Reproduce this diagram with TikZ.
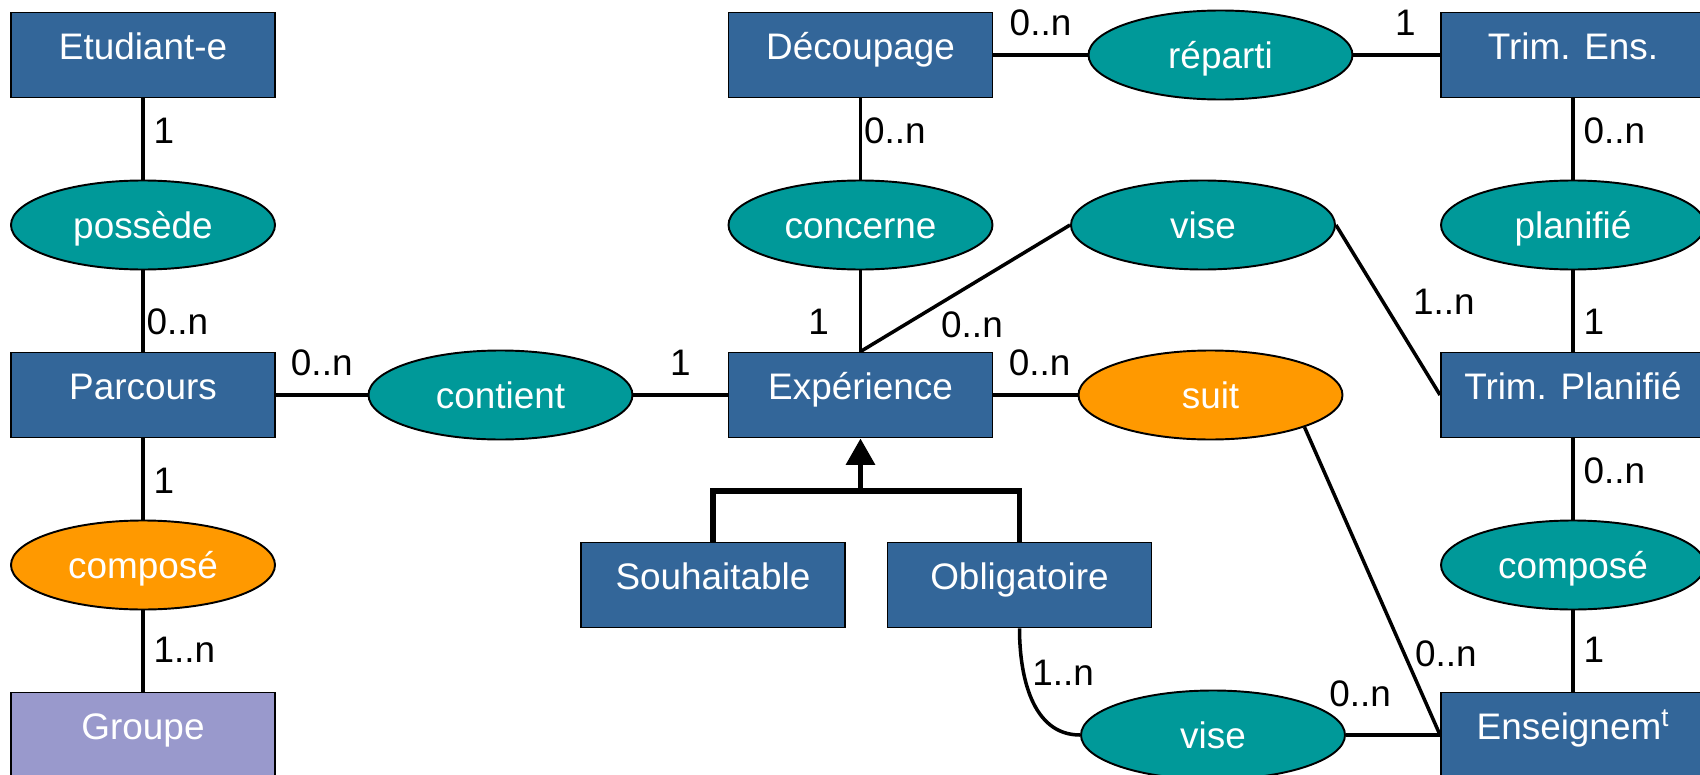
\documentclass[tikz,border=0pt]{standalone}
\usepackage{fontspec}
\setmainfont{Liberation Sans}
\usepackage{tikz}
\usetikzlibrary{shapes,shapes.geometric,arrows,arrows.meta,positioning}

\definecolor{entite}{RGB}{51,102,153}
\definecolor{assoc}{RGB}{0,153,153}
\definecolor{assocor}{RGB}{255,153,0}
\definecolor{groupe}{RGB}{153,153,204}

\tikzset{
  entity/.style={draw=black, line width=1.1pt, fill=entite, text=white,
    minimum width=5.28cm, minimum height=1.7cm, inner sep=0pt,
    text height=0.53cm, text depth=0.36cm},
  relation/.style={ellipse, draw=black, line width=1.1pt, fill=assoc, text=white,
    minimum width=5.28cm, minimum height=1.78cm, inner sep=0pt,
    text height=0.6cm, text depth=0.05cm},
  card/.style={text=black, inner xsep=5pt, inner ysep=10pt},
  lien/.style={line width=2pt}
}

\begin{document}
\begin{tikzpicture}[%
>=stealth,
node distance=3.4cm and 7.15cm,
on grid,
auto,
font=\fontsize{21}{25}\selectfont
]
\useasboundingbox (-2.86,1.1) rectangle (31.14,-14.4);

% colonne gauche
\node[entity] (etudiant) {Etudiant-e};
\node[relation] (possede) [below=of etudiant] {possède};
\node[entity] (parcours) [below=of possede] {Parcours};
\node[relation, fill=assocor] (composeG) [below=of parcours] {composé};
\node[entity, fill=groupe] (groupe) [below=of composeG] {Groupe};

% centre
\node[relation] (contient) [right=of parcours] {contient};
\node[entity] (experience) [right=7.2cm of contient] {Expérience};
\node[relation] (concerne) [above=of experience] {concerne};
\node[entity] (decoupage) [above=of concerne] {Découpage};
\node[entity] (souhaitable) [below left=3.8cm and 2.95cm of experience] {Souhaitable};
\node[entity] (obligatoire) [below right=3.8cm and 3.18cm of experience] {Obligatoire};

% droite
\node[relation] (reparti) [right=7.2cm of decoupage] {réparti};
\node[relation] (viseH) [right=6.85cm of concerne] {vise};
\node[relation, fill=assocor] (suit) [right=7.0cm of experience] {suit};
\node[entity] (trimens) [right=7.05cm of reparti] {Trim. Ens.};
\node[relation] (planifie) [below=of trimens] {planifié};
\node[entity] (trimplan) [below=of planifie] {Trim. Planifié};
\node[relation] (composeD) [below=of trimplan] {composé};
\node[entity] (enseignemt) [below=of composeD] {Enseignem\textsuperscript{t}};
\node[relation] (viseB) [left=7.2cm of enseignemt] {vise};

% liens
\path[lien] (etudiant) edge node[card, pos=0.4] {1} (possede);
\path[lien] (possede) edge node[card, pos=0.63, inner xsep=1pt] {0..n} (parcours);
\path[lien] (parcours) edge node[card, pos=0.52] {1} (composeG);
\path[lien] (composeG) edge node[card, pos=0.49] {1..n} (groupe);
\path[lien] (parcours) edge node[card] {0..n} (contient);
\path[lien] (contient) edge node[card] {1} (experience);
\path[lien] (decoupage) edge node[card, pos=0.4, inner xsep=1pt] {0..n} (concerne);
\path[lien] (concerne) edge node[card, swap, pos=0.63, xshift=-12pt] {1} (experience);
\path[lien] (experience.north) edge node[card, pos=0.36, anchor=north west, inner sep=2pt] {0..n} (viseH.west);
\path[lien] (viseH.east) edge node[card, pos=0.64] {1..n} (trimplan.west);
\path[lien] (decoupage) edge node[card] {0..n} (reparti);
\path[lien] (reparti) edge node[card, pos=0.6] {1} (trimens);
\path[lien] (trimens) edge node[card, pos=0.4] {0..n} (planifie);
\path[lien] (planifie) edge node[card, pos=0.63] {1} (trimplan);
\path[lien] (trimplan) edge node[card, pos=0.4] {0..n} (composeD);
\path[lien] (composeD) edge node[card, pos=0.49] {1} (enseignemt);
\path[lien] (experience) edge node[card, pos=0.55] {0..n} (suit);
\path[lien] (suit.south east) edge node[card, pos=0.79, inner sep=1pt] {0..n} (enseignemt.west);
\path[lien] (viseB) edge node[card, pos=0.15, yshift=5pt] {0..n} (enseignemt);
\path[lien] (obligatoire.south) edge[out=-90, in=180] node[card, pos=0.3, anchor=west, inner sep=4pt] {1..n} (viseB.west);

% heritage
\coordinate[below=1.05cm of experience.south] (herit);
\draw[line width=3.2pt] (souhaitable.north) |- (herit) -| (obligatoire.north);
\draw[line width=3.2pt, -{Triangle[width=16pt, length=15pt]}] (herit) -- (experience.south);
\end{tikzpicture}
\end{document}
